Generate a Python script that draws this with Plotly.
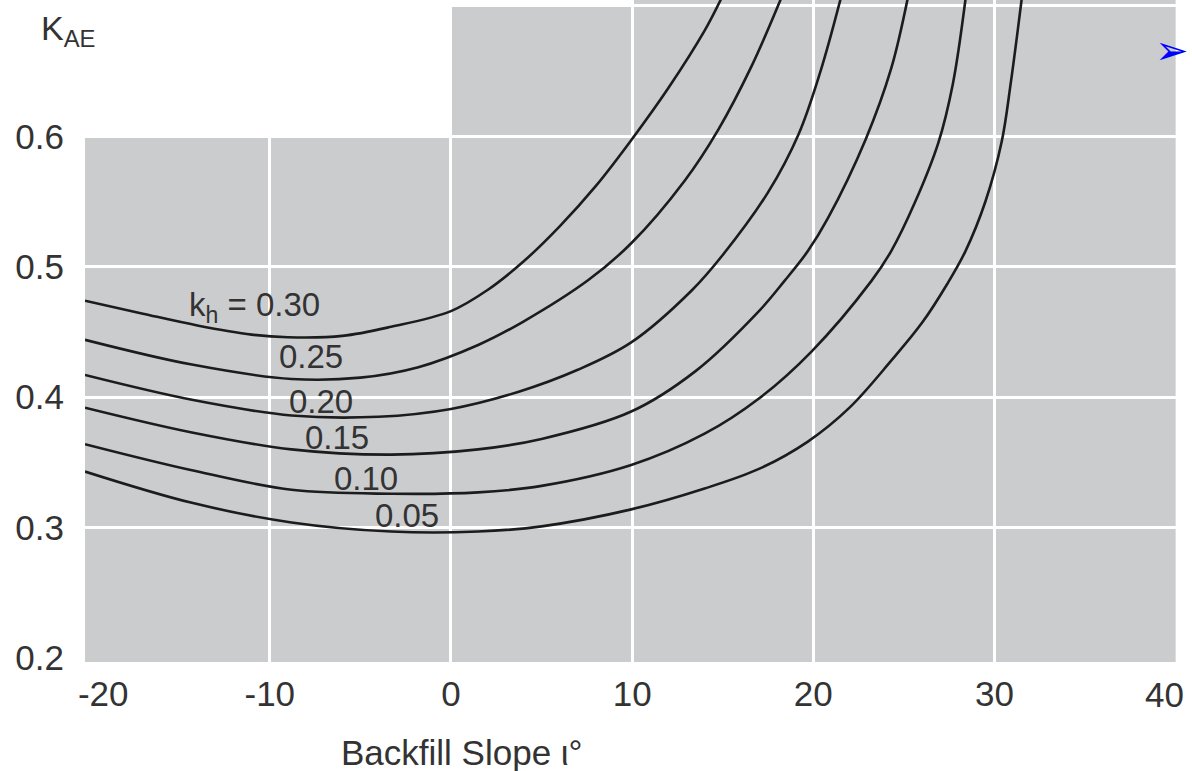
import plotly.graph_objects as go

# ---- data ----
kh_labels = ["k<sub>h</sub> = 0.30", "0.25", "0.20", "0.15", "0.10", "0.05"]

x_030 = [-20.2, -17.0, -14.0, -11.0, -9.0, -6.0, -3.3, 0.0, 2.0, 4.0, 6.0, 8.0, 10.0, 12.0, 14.0, 14.9]
y_030 = [0.474, 0.464, 0.455, 0.448, 0.446, 0.447, 0.454, 0.466, 0.482, 0.504, 0.531, 0.562, 0.598, 0.637, 0.681, 0.705]

x_025 = [-20.2, -14.3, -8.8, -5.0, -1.8, 1.5, 4.0, 7.6, 9.95, 12.9, 14.75, 16.6, 18.2]
y_025 = [0.444, 0.425, 0.414, 0.415, 0.423, 0.440, 0.458, 0.490, 0.518, 0.566, 0.605, 0.654, 0.705]

x_020 = [-20.2, -14.3, -8.8, -4.0, 0.0, 3.7, 7.0, 9.95, 13.3, 15.0, 17.5, 19.2, 20.4, 21.5]
y_020 = [0.417, 0.398, 0.386, 0.385, 0.391, 0.404, 0.421, 0.442, 0.482, 0.509, 0.557, 0.602, 0.650, 0.705]

x_015 = [-20.2, -14.3, -8.8, -3.3, 1.5, 5.0, 9.95, 13.5, 17.0, 18.4, 19.7, 20.8, 22.9, 24.3, 25.2]
y_015 = [0.392, 0.373, 0.360, 0.356, 0.360, 0.368, 0.389, 0.420, 0.466, 0.489, 0.512, 0.537, 0.598, 0.652, 0.705]

x_010 = [-20.2, -14.3, -8.8, -3.3, 1.5, 5.0, 9.95, 14.0, 17.0, 19.9, 23.2, 24.3, 25.6, 26.9, 27.7, 28.4]
y_010 = [0.364, 0.344, 0.329, 0.326, 0.327, 0.332, 0.348, 0.372, 0.399, 0.435, 0.489, 0.512, 0.549, 0.595, 0.640, 0.705]

x_005 = [-20.2, -14.3, -8.8, -3.3, 1.5, 5.0, 9.95, 14.0, 17.0, 19.7, 22.0, 24.3, 26.0, 27.4, 28.4, 29.5, 30.4, 30.9, 31.5]
y_005 = [0.343, 0.319, 0.304, 0.297, 0.297, 0.301, 0.314, 0.330, 0.345, 0.366, 0.392, 0.428, 0.457, 0.487, 0.512, 0.550, 0.596, 0.641, 0.705]

series_x = [x_030, x_025, x_020, x_015, x_010, x_005]
series_y = [y_030, y_025, y_020, y_015, y_010, y_005]

# label anchor positions (data coords)
label_x = [-10.85, -7.75, -7.2, -6.27, -4.7, -2.4]
label_y = [0.469, 0.431, 0.397, 0.369, 0.338, 0.309]

x_ticks = [-20, -10, 0, 10, 20, 30, 40]
x_ticktext = ["\u00a0\u00a0\u00a0-20", "-10", "0", "10", "20", "30", "40"]
y_ticks = [0.2, 0.3, 0.4, 0.5, 0.6]
y_ticktext = ["0.2", "0.3", "0.4", "0.5", "0.6"]
x_grid = [-10, 0, 10, 20, 30]
y_grid = [0.3, 0.4, 0.5, 0.6, 0.7]

# stepped grey background panels: left edge, right edge, top (None = top of plot)
panel_x0 = [-20.2, 0, 10]
panel_x1 = [0, 10, 40]
panel_top = [0.6, 0.7, None]

X_RANGE = [-20.2, 40.02]
Y_RANGE = [0.197, 0.7045]

FONT = "Liberation Sans, Arial, sans-serif"
TXT = "#333333"
GREY = "#cbccce"
TICKFONT = dict(family=FONT, size=35, color=TXT)

fig = go.Figure()

for xs, ys in zip(series_x, series_y):
    fig.add_trace(go.Scatter(
        x=xs, y=ys, mode="lines",
        line=dict(color="#1c1c1c", width=2.6, shape="spline", smoothing=1.0),
        hoverinfo="skip", showlegend=False,
    ))

for x0, x1, top in zip(panel_x0, panel_x1, panel_top):
    if top is None:
        fig.add_shape(type="rect", xref="x", yref="paper", x0=x0, x1=x1, y0=0, y1=1,
                      fillcolor=GREY, line=dict(width=0), layer="below")
    else:
        fig.add_shape(type="rect", xref="x", yref="y", x0=x0, x1=x1, y0=Y_RANGE[0], y1=top,
                      fillcolor=GREY, line=dict(width=0), layer="below")

for txt, lx, ly in zip(kh_labels, label_x, label_y):
    fig.add_annotation(x=lx, y=ly, xref="x", yref="y", text=txt, showarrow=False,
                       font=dict(family=FONT, size=33, color=TXT),
                       xanchor="center", yanchor="middle")

# last x tick label, right-aligned at its tick so it stays inside the page
fig.add_annotation(x=x_ticks[-1], y=0, xref="x", yref="paper", text=x_ticktext[-1],
                   showarrow=False, font=TICKFONT, xanchor="right", yanchor="top",
                   xshift=10, yshift=-11)

# axis titles
fig.add_annotation(x=-0.042, y=0.99, xref="paper", yref="paper",
                   text="K<sub>AE</sub>", showarrow=False,
                   font=dict(family=FONT, size=34, color=TXT),
                   xanchor="left", yanchor="top")
fig.add_annotation(x=0.3456, y=-0.136, xref="paper", yref="paper",
                   text="Backfill Slope \u03b9\u00b0", showarrow=False,
                   font=dict(family=FONT, size=35, color=TXT),
                   xanchor="center", yanchor="middle")

# blue navigation arrow
fig.add_annotation(x=0.9965, y=0.925, xref="paper", yref="paper",
                   text="\u27a2", showarrow=False,
                   font=dict(family="DejaVu Sans", size=40, color="#0000ff"),
                   xanchor="center", yanchor="middle")

fig.update_layout(
    xaxis=dict(
        range=X_RANGE, tickmode="array", tickvals=x_ticks[:-1], ticktext=x_ticktext[:-1],
        showgrid=False, zeroline=False, showline=False, ticks="",
        ticklabelstandoff=8,
        tickfont=TICKFONT,
        minor=dict(tickvals=x_grid, showgrid=True, gridcolor="#ffffff", gridwidth=2.5, ticks=""),
    ),
    yaxis=dict(
        range=Y_RANGE, tickmode="array", tickvals=y_ticks, ticktext=y_ticktext,
        showgrid=False, zeroline=False, showline=False, ticks="",
        ticklabelstandoff=20,
        tickfont=TICKFONT,
        minor=dict(tickvals=y_grid, showgrid=True, gridcolor="#ffffff", gridwidth=2.5, ticks=""),
    ),
    width=1192, height=771,
    margin=dict(l=85, r=16, t=0, b=109, autoexpand=False),
    paper_bgcolor="white", plot_bgcolor="white",
    showlegend=False,
)

fig.write_html("out.html")
